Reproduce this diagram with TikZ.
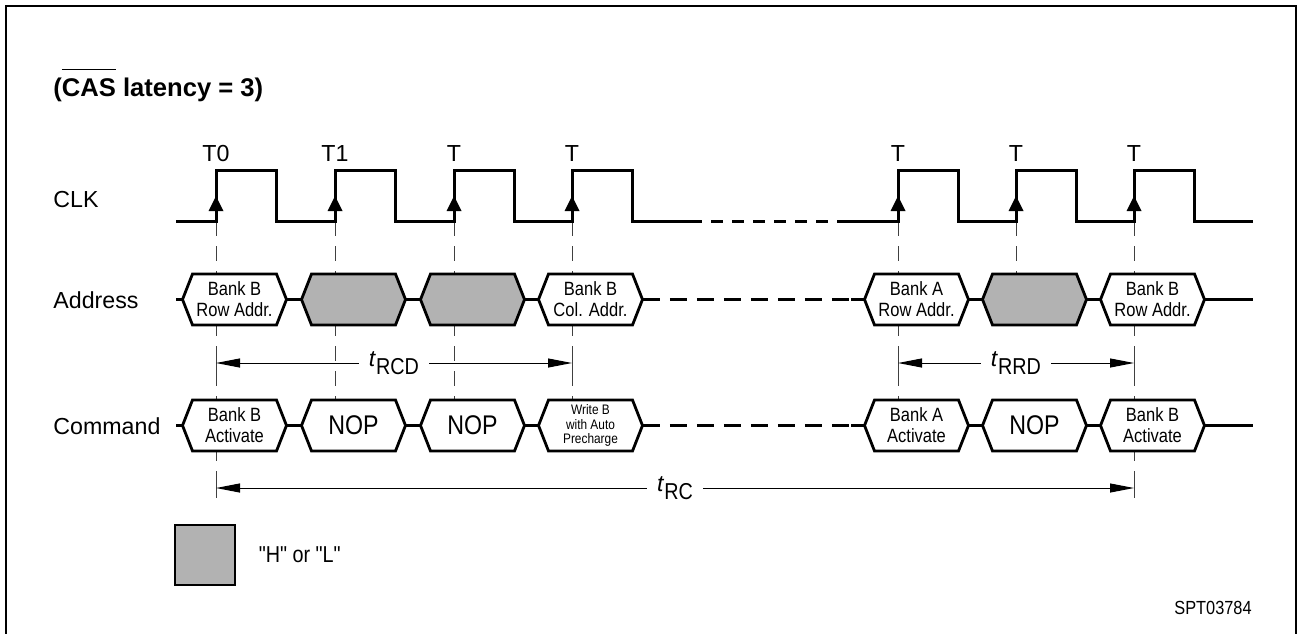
\documentclass[tikz,border=0pt]{standalone}
\usepackage{fontspec}
\setmainfont{Liberation Sans}
\newfontfamily\narrowsf[FakeStretch=0.86]{Liberation Sans}
\usetikzlibrary{arrows.meta,positioning}
\definecolor{hxgray}{RGB}{178,178,178}

% bar over a word, set well above the capitals
\newcommand{\barred}[1]{\setbox0=\hbox{#1}\rlap{\rule[\dimexpr\ht0+4pt\relax]{\wd0}{0.5pt}}\box0\relax}
% one bus cell: [text options] name, centre x, centre y, fill, text
\newcommand{\sigcell}[6][]{%
  \draw[cell, fill=#5] (#3-52,#4) -- (#3-42,#4-25.5) -- (#3+42,#4-25.5) -- (#3+52,#4)
    -- (#3+42,#4+25.5) -- (#3-42,#4+25.5) -- cycle;
  \node[celltxt, #1] (#2) at (#3,#4) {#6};}

\begin{document}
\begin{tikzpicture}[
    x=0.5pt, y=-0.5pt,
    wire/.style={line width=1.5pt, line join=miter},
    brk/.style={dash pattern=on 8.5pt off 5pt},
    clkbrk/.style={dash pattern=on 6pt off 4.5pt},
    cell/.style={line width=1.4pt, line join=miter},
    celltxt/.style={font=\narrowsf\fontsize{9.6}{10.6}\selectfont, align=center, inner sep=0pt,
      minimum width=52pt, minimum height=25.5pt},
    nop/.style={font=\narrowsf\fontsize{13.5}{15}\selectfont},
    small/.style={font=\narrowsf\fontsize{6.9}{7.3}\selectfont},
    guide/.style={line width=0.5pt, black!75, dash pattern=on 7.5pt off 5pt},
    tick/.style={line width=0.5pt, black!75},
    dimarrow/.style={line width=0.5pt, {Triangle[length=12pt,width=4.5pt]}-{Triangle[length=12pt,width=4.5pt]}},
    tlabel/.style={fill=white, inner xsep=5pt, inner ysep=1pt, font=\fontsize{11.5}{12}\selectfont},
    lbl/.style={inner sep=0pt, font=\fontsize{11.6}{13}\selectfont}
  ]
  \useasboundingbox (0,0) rectangle (1301,633);
  \draw[line width=1.4pt] (6,640) -- (6,6) -- (1296,6) -- (1296,640);

  \node[lbl, anchor=base west, font=\bfseries\fontsize{12.8}{15}\selectfont] (title) at (53,96)
    {(\barred{CAS} latency = 3)};
  \node[lbl, anchor=base west] (clk) at (53,207) {CLK};
  \node[lbl, anchor=base west] (addr) at (53,308) {Address};
  \node[lbl, anchor=base west] (cmd) at (53,434) {Command};

  % reference lines from the rising edges
  \foreach \e/\b in {216/495, 335/400, 454/400, 572/400, 898/400, 1016/274, 1134/495}
    \draw[guide] (\e,221) -- (\e,\b);
  \foreach \e/\y in {216/363, 572/363, 898/363, 1134/363, 216/488, 1134/488}
    \draw[tick] (\e,\y-10) -- (\e,\y+10);

  % clock
  \draw[wire] (176,221) \foreach \e in {216,335,454,572}{ -- (\e,221) -- (\e,170) -- (\e+60,170) -- (\e+60,221)} -- (690,221);
  \draw[wire, clkbrk] (690,221) -- (839,221);
  \draw[wire] (839,221) \foreach \e in {898,1016,1134}{ -- (\e,221) -- (\e,170) -- (\e+60,170) -- (\e+60,221)} -- (1253,221);
  \foreach \e/\t in {216/T0, 335/T1, 454/T, 572/T, 898/T, 1016/T, 1134/T} {
    \fill (\e,196) -- (\e+7.5,211) -- (\e-7.5,211) -- cycle;
    \node[lbl] (t\e) at (\e,154) {\t};
  }

  % address bus
  \sigcell{a1}{234.5}{299.5}{white}{Bank B\\Row Addr.}
  \sigcell{a2}{353.5}{299.5}{hxgray}{}
  \sigcell{a3}{472.5}{299.5}{hxgray}{}
  \sigcell{a4}{590.5}{299.5}{white}{Bank B\\Col. Addr.}
  \sigcell{a5}{916.5}{299.5}{white}{Bank A\\Row Addr.}
  \sigcell{a6}{1034.5}{299.5}{hxgray}{}
  \sigcell{a7}{1152.5}{299.5}{white}{Bank B\\Row Addr.}
  \coordinate (aL) at (176,299.5);
  \coordinate (aR) at (1253,299.5);
  \draw[wire] (aL) -- (a1.west) (a1.east) -- (a2.west) (a2.east) -- (a3.west) (a3.east) -- (a4.west)
    (a5.east) -- (a6.west) (a6.east) -- (a7.west) (a7.east) -- (aR);
  \draw[wire, brk] (a4.east) -- (a5.west);
  \draw[wire] (a4.east) -- ++(14,0) (a5.west) -- ++(-13,0);

  % command bus
  \sigcell{c1}{234.5}{425.5}{white}{Bank B\\Activate}
  \sigcell[nop]{c2}{353.5}{425.5}{white}{NOP}
  \sigcell[nop]{c3}{472.5}{425.5}{white}{NOP}
  \sigcell[small]{c4}{590.5}{425.5}{white}{Write B\\with Auto\\Precharge}
  \sigcell{c5}{916.5}{425.5}{white}{Bank A\\Activate}
  \sigcell[nop]{c6}{1034.5}{425.5}{white}{NOP}
  \sigcell{c7}{1152.5}{425.5}{white}{Bank B\\Activate}
  \coordinate (cL) at (176,425.5);
  \coordinate (cR) at (1253,425.5);
  \draw[wire] (cL) -- (c1.west) (c1.east) -- (c2.west) (c2.east) -- (c3.west) (c3.east) -- (c4.west)
    (c5.east) -- (c6.west) (c6.east) -- (c7.west) (c7.east) -- (cR);
  \draw[wire, brk] (c4.east) -- (c5.west);
  \draw[wire] (c4.east) -- ++(14,0) (c5.west) -- ++(-13,0);

  % timing spans
  \coordinate (rcdL) at (216,363);  \coordinate (rcdR) at (572,363);
  \coordinate (rrdL) at (898,363);  \coordinate (rrdR) at (1134,363);
  \coordinate (rcL) at (216,488);   \coordinate (rcR) at (1134,488);
  \draw[dimarrow] (rcdL) -- node[tlabel] (trcd) {\textit{t}\raisebox{-4pt}{\narrowsf RCD}} (rcdR);
  \draw[dimarrow] (rrdL) -- node[tlabel] (trrd) {\textit{t}\raisebox{-4pt}{\narrowsf RRD}} (rrdR);
  \draw[dimarrow] (rcL) -- node[tlabel] (trc) {\textit{t}\raisebox{-4pt}{\narrowsf RC}} (rcR);

  % legend
  \node[draw, line width=1.4pt, fill=hxgray, minimum size=30pt, inner sep=0pt] (key) at (205,555) {};
  \node[lbl, right=11pt of key, font=\narrowsf\fontsize{11.5}{12}\selectfont] (keytxt) {"H" or "L"};
  \node[lbl, anchor=east, font=\narrowsf\fontsize{9.5}{11}\selectfont] (figid) at (1252,608) {SPT03784};
\end{tikzpicture}
\end{document}
